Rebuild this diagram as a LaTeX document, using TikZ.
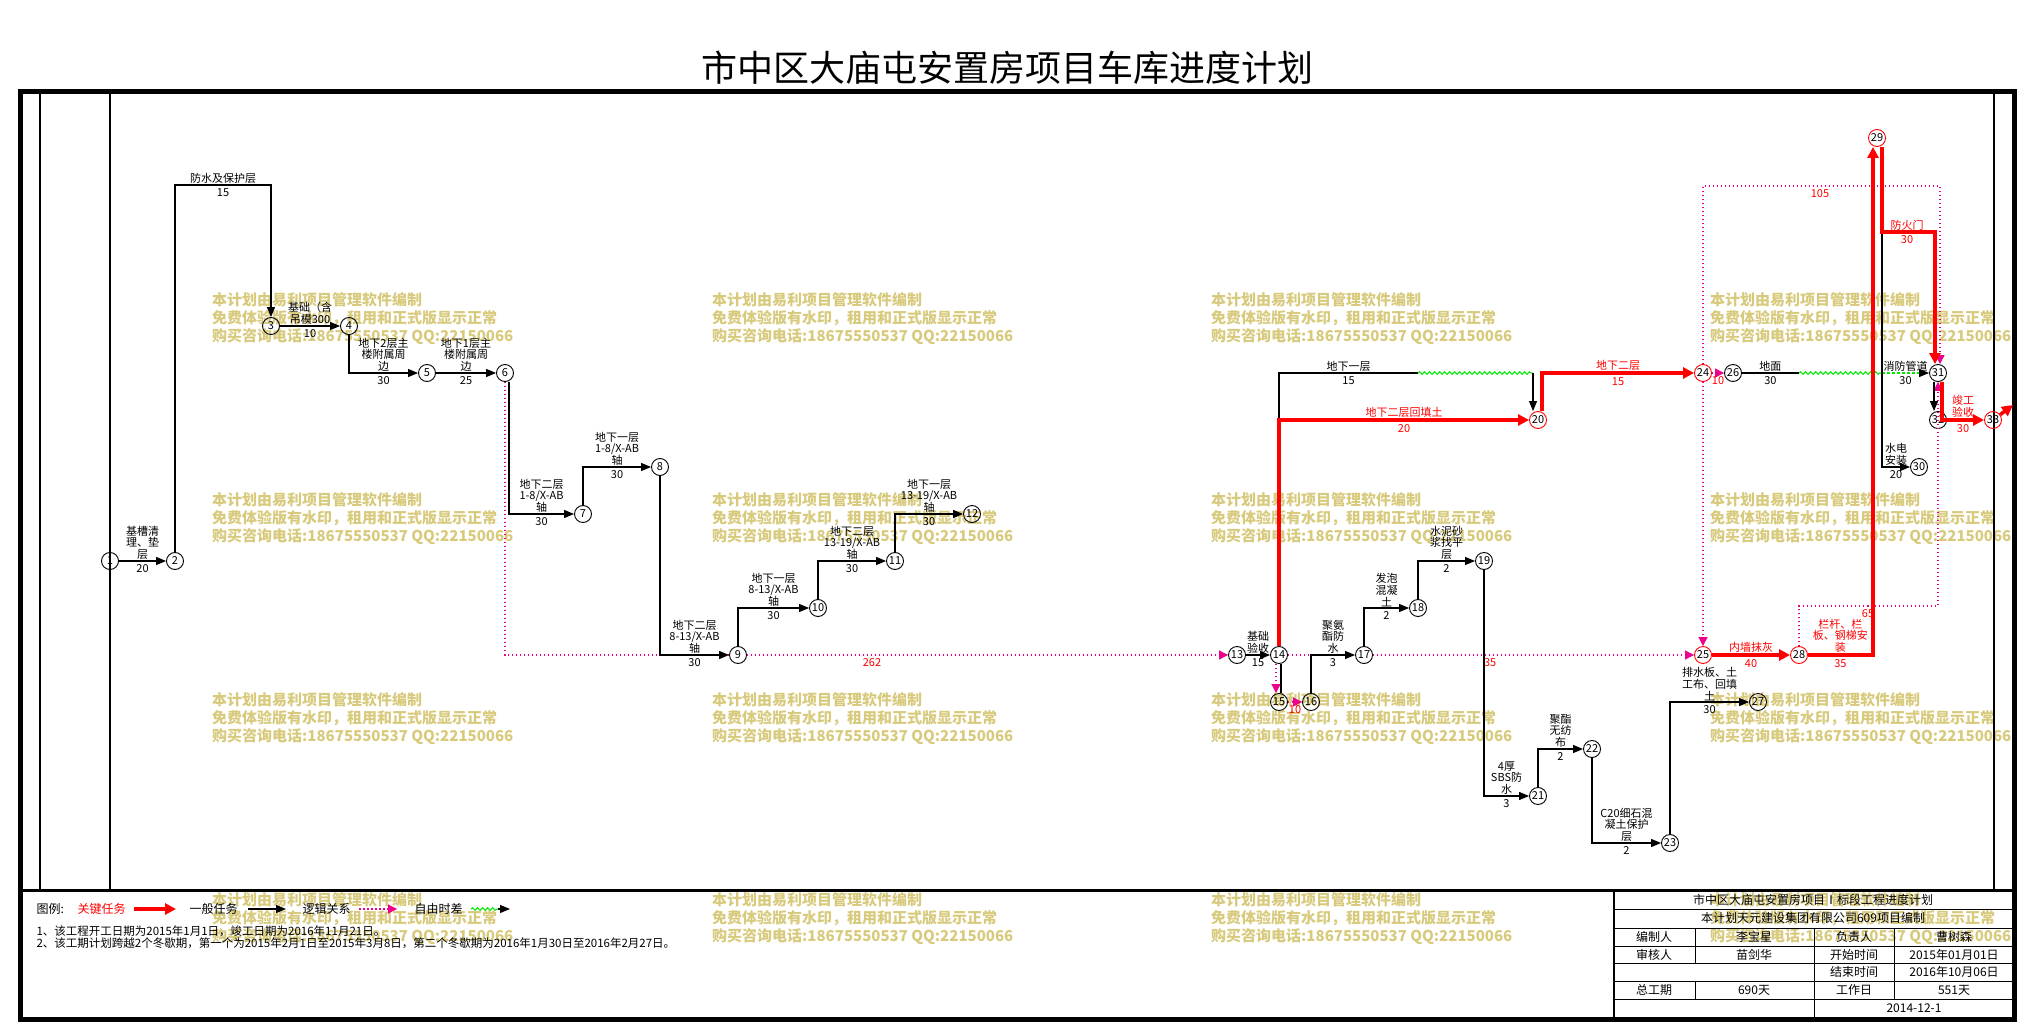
\documentclass[tikz,border=0pt]{standalone}
\usepackage{fontspec}
\setmainfont{Noto Sans CJK SC}
\usepackage{tikz}
\usetikzlibrary{arrows.meta,decorations.pathmorphing}
\definecolor{wmark}{RGB}{216,202,125}
\definecolor{lgreen}{RGB}{0,235,0}

\begin{document}
\begin{tikzpicture}[x=1pt, y=-1pt,
  evt/.style={circle, draw, line width=0.9pt, minimum size=17pt, inner sep=0pt, font=\fontsize{11}{11}\selectfont},
  cevt/.style={evt, draw=red},
  task/.style={line width=1.1pt, -{Triangle[length=10pt,width=8pt]}},
  crit/.style={red, line width=3.5pt, -{Triangle[length=11pt,width=11pt]}},
  logic/.style={magenta, line width=1.1pt, dash pattern=on 1.5pt off 2.5pt, -{Triangle[length=9pt,width=9pt]}},
  dotline/.style={magenta, line width=1.1pt, dash pattern=on 1.5pt off 2.5pt},
  slack/.style={lgreen, line width=1pt, decorate, decoration={snake, amplitude=1.3pt, segment length=5pt}},
  slackarrow/.style={lgreen, line width=1.1pt, dash pattern=on 3pt off 2pt, -{Triangle[length=10pt,width=8pt,color=black]}},
  lbl/.style={above, inner sep=1pt, align=center, font=\fontsize{11}{11.6}\selectfont},
  dur/.style={below, inner sep=3pt, font=\fontsize{11}{11}\selectfont},
  clbl/.style={lbl, text=red},
  cdur/.style={dur, text=red},
  wm/.style={anchor=north west, inner sep=0pt, align=left, text=wmark, font=\bfseries\fontsize{15}{18}\selectfont},
  cell/.style={font=\fontsize{12}{12}\selectfont},
  note/.style={anchor=west, font=\fontsize{11.5}{11.5}\selectfont}
]
\useasboundingbox (0,0) rectangle (2018,1024);

\foreach \wx in {212,712,1211,1710}
  \foreach \wy in {292,492,692,892}
    \node[wm] (wm-\wx-\wy) at (\wx,\wy) {本计划由易利项目管理软件编制\\免费体验版有水印，租用和正式版显示正常\\购买咨询电话:18675550537 QQ:22150066};

\node[font=\fontsize{36}{36}\selectfont] (title) at (1007,68) {市中区大庙屯安置房项目车库进度计划};

\draw[line width=5pt] (20,92) rectangle (2014,1019);
\draw[line width=3pt] (20,890) -- (2014,890);
\draw[line width=2pt] (40,92) -- (40,890);
\draw[line width=1.2pt] (110,92) -- (110,890);
\draw[line width=1.2pt] (1994,92) -- (1994,890);

\node[evt] (n1) at (110,561) {1};
\node[evt] (n2) at (175,561) {2};
\node[evt] (n3) at (271,326) {3};
\node[evt] (n4) at (349,326) {4};
\node[evt] (n5) at (427,373) {5};
\node[evt] (n6) at (505,373) {6};
\node[evt] (n7) at (583,514) {7};
\node[evt] (n8) at (660,467) {8};
\node[evt] (n9) at (738,655) {9};
\node[evt] (n10) at (818,608) {10};
\node[evt] (n11) at (895,561) {11};
\node[evt] (n12) at (972,514) {12};
\node[evt] (n13) at (1237,655) {13};
\node[evt] (n14) at (1279,655) {14};
\node[evt] (n15) at (1279,702) {15};
\node[evt] (n16) at (1311,702) {16};
\node[evt] (n17) at (1364,655) {17};
\node[evt] (n18) at (1418,608) {18};
\node[evt] (n19) at (1484,561) {19};
\node[cevt] (n20) at (1538,420) {20};
\node[evt] (n21) at (1538,796) {21};
\node[evt] (n22) at (1592,749) {22};
\node[evt] (n23) at (1670,843) {23};
\node[cevt] (n24) at (1703,373) {24};
\node[cevt] (n25) at (1703,655) {25};
\node[evt] (n26) at (1733,373) {26};
\node[evt] (n27) at (1758,702) {27};
\node[cevt] (n28) at (1799,655) {28};
\node[cevt] (n29) at (1877,138) {29};
\node[evt] (n30) at (1919,467) {30};
\node[evt] (n31) at (1938,373) {31};
\node[evt] (n32) at (1938,420) {32};
\node[cevt] (n33) at (1993,420) {33};

\coordinate (t23) at (223,185);
\coordinate (e14) at (1418,373);
\coordinate (w20) at (1533,373);
\coordinate (k26) at (1799,373);
\coordinate (j29) at (1882,373);
\coordinate (fd) at (1882,232);
\coordinate (fm) at (1907,232);
\coordinate (r105) at (1820,186);
\coordinate (r65) at (1868,606);
\coordinate (fin) at (2013,405);

\draw[dotline] (n6) |- (n9);
\draw[logic] (n9) -- (n13) node[cdur, pos=.26] (d913) {262};
\draw[logic] ([xshift=-3pt]n14.south) -- ([xshift=-3pt]n15.north);
\draw[line width=1.1pt] ([xshift=2pt]n14.south) -- ([xshift=2pt]n15.north);
\draw[logic] (n15) -- (n16) node[cdur, midway] (d1516) {10};
\draw[dotline] (n14) -- (n17);
\draw[logic] (n17) -- (n25) node[cdur, pos=.365] (d1725) {35};
\draw[logic] (n24) -- (n25);
\draw[logic] (n24) -- (n26) node[cdur, midway] (d2426) {10};
\draw[logic] (n24) |- (r105) -| ([xshift=2pt]n31.north);
\node[cdur] (d105) at (r105) {105};
\draw[logic] (n28) |- (r65) -| (n31);
\node[cdur] (d65) at (r65) {65};

\draw[task] (n1) -- (n2) node[lbl, midway] (l12) {基槽清\\理、垫\\层} node[dur, midway] (d12) {20};
\draw[task] (n2) |- (t23) -| (n3);
\node[lbl] (l23) at (t23) {防水及保护层};
\node[dur] (d23) at (t23) {15};
\draw[task] (n3) -- (n4) node[lbl, midway] (l34) {基础（含\\吊模300} node[dur, midway] (d34) {10};
\draw[task] (n4) |- (n5) node[lbl, pos=.75] (l45) {地下2层主\\楼附属周\\边} node[dur, pos=.75] (d45) {30};
\draw[task] (n5) -- (n6) node[lbl, midway] (l56) {地下1层主\\楼附属周\\边} node[dur, midway] (d56) {25};
\draw[task] ([xshift=4pt]n6.south) |- (n7) node[lbl, pos=.75] (l67) {地下二层\\1-8/X-AB\\轴} node[dur, pos=.75] (d67) {30};
\draw[task] (n7) |- (n8) node[lbl, pos=.75] (l78) {地下一层\\1-8/X-AB\\轴} node[dur, pos=.75] (d78) {30};
\draw[task] (n8) |- (n9) node[lbl, pos=.75] (l89) {地下二层\\8-13/X-AB\\轴} node[dur, pos=.75] (d89) {30};
\draw[task] (n9) |- (n10) node[lbl, pos=.75] (l910) {地下一层\\8-13/X-AB\\轴} node[dur, pos=.75] (d910) {30};
\draw[task] (n10) |- (n11) node[lbl, pos=.75] (l1011) {地下二层\\13-19/X-AB\\轴} node[dur, pos=.75] (d1011) {30};
\draw[task] (n11) |- (n12) node[lbl, pos=.75] (l1112) {地下一层\\13-19/X-AB\\轴} node[dur, pos=.75] (d1112) {30};
\draw[task] (n13) -- (n14) node[lbl, midway] (l1314) {基础\\验收} node[dur, midway] (d1314) {15};
\draw[task] (n16) |- (n17) node[lbl, pos=.75] (l1617) {聚氨\\酯防\\水} node[dur, pos=.75] (d1617) {3};
\draw[task] (n17) |- (n18) node[lbl, pos=.75] (l1718) {发泡\\混凝\\土} node[dur, pos=.75] (d1718) {2};
\draw[task] (n18) |- (n19) node[lbl, pos=.75] (l1819) {水泥砂\\浆找平\\层} node[dur, pos=.75] (d1819) {2};
\draw[task] (n19) |- (n21) node[lbl, pos=.75] (l1921) {4厚\\SBS防\\水} node[dur, pos=.75] (d1921) {3};
\draw[task] (n21) |- (n22) node[lbl, pos=.75] (l2122) {聚酯\\无纺\\布} node[dur, pos=.75] (d2122) {2};
\draw[task] (n22) |- (n23) node[lbl, pos=.75] (l2223) {C20细石混\\凝土保护\\层} node[dur, pos=.75] (d2223) {2};
\draw[task] (n23) |- (n27) node[lbl, pos=.75] (l2327) {排水板、土\\工布、回填\\土} node[dur, pos=.75] (d2327) {30};
\draw[line width=1.1pt] (n14) |- (e14) node[lbl, pos=.75] (l1420) {地下一层} node[dur, pos=.75] (d1420) {15};
\draw[slack] (e14) -- (w20);
\draw[task] (w20) -- (w20 |- n20.north);
\draw[line width=1.1pt] (n26) -- (k26) node[lbl, midway] (l2629) {地面} node[dur, midway] (d2629) {30};
\draw[slack] (k26) -- (j29);
\draw[slackarrow] (j29) -- (n31) node[lbl, midway, text=black] (l2931) {消防管道} node[dur, midway, text=black] (d2931) {30};
\draw[task] (fd) |- (n30) node[lbl, pos=.75] (l2930) {水电\\安装} node[dur, pos=.75] (d2930) {20};
\draw[task] ([xshift=-4pt]n31.south) -- ([xshift=-4pt]n32.north);

\draw[crit] (n14) |- (n20) node[clbl, pos=.75] (l1420b) {地下二层回填土} node[cdur, pos=.75] (d1420b) {20};
\draw[crit] ([xshift=4pt]n20.north) |- (n24) node[clbl, pos=.75] (l2024) {地下二层} node[cdur, pos=.75] (d2024) {15};
\draw[crit] (n25) -- (n28) node[clbl, midway] (l2528) {内墙抹灰} node[cdur, midway] (d2528) {40};
\draw[crit] (n28) -| ([xshift=-4pt]n29.south) node[clbl, pos=.25] (l2829) {栏杆、栏\\板、钢梯安\\装} node[cdur, pos=.25] (d2829) {35};
\draw[crit] ([xshift=5pt]n29.south) |- (fm) -| ([xshift=-3pt]n31.north);
\node[clbl] (l2931b) at (fm) {防火门};
\node[cdur] (d2931b) at (fm) {30};
\draw[crit] ([xshift=4pt]n31.south) |- (n33) node[clbl, pos=.75] (l3133) {竣工\\验收} node[cdur, pos=.75] (d3133) {30};
\draw[crit] (n33) -- (fin);

\node[cell, anchor=west] (lg0) at (33,909) {图例:};
\node[cell, anchor=west, text=red] (lg1) at (74,909) {关键任务};
\coordinate (lga) at (134,909);
\coordinate (lgb) at (176,909);
\draw[crit] (lga) -- (lgb);
\node[cell, anchor=west] (lg2) at (186,909) {一般任务};
\coordinate (lgc) at (248,909);
\coordinate (lgd) at (286,909);
\draw[task] (lgc) -- (lgd);
\node[cell, anchor=west] (lg3) at (299,909) {逻辑关系};
\coordinate (lge) at (359,909);
\coordinate (lgf) at (397,909);
\draw[logic] (lge) -- (lgf);
\node[cell, anchor=west] (lg4) at (411,909) {自由时差};
\coordinate (lgg) at (471,909);
\coordinate (lgh) at (498,909);
\coordinate (lgi) at (510,909);
\draw[slack] (lgg) -- (lgh);
\draw[task] (lgh) -- (lgi);
\node[note] (nt1) at (33,931) {1、该工程开工日期为2015年1月1日，竣工日期为2016年11月21日。};
\node[note] (nt2) at (33,943) {2、该工期计划跨越2个冬歇期，第一个为2015年2月1日至2015年3月8日，第二个冬歇期为2016年1月30日至2016年2月27日。};

\draw[line width=2.5pt] (1614,890) -- (1614,1019);
\foreach \ry in {909,928,946,963,981,999}
  \draw[line width=0.8pt] (1614,\ry) -- (2014,\ry);
\draw[line width=0.8pt] (1695,928) -- (1695,963) (1695,981) -- (1695,999);
\draw[line width=0.8pt] (1814,928) -- (1814,1019);
\draw[line width=0.8pt] (1894,928) -- (1894,999);
\node[cell] (c1) at (1813,900) {市中区大庙屯安置房项目Ⅰ标段工程进度计划};
\node[cell] (c2) at (1813,918) {本计划天元建设集团有限公司609项目编制};
\node[cell] (c31) at (1654,937) {编制人};
\node[cell] (c32) at (1754,937) {李宝星};
\node[cell] (c33) at (1854,937) {负责人};
\node[cell] (c34) at (1954,937) {曹树森};
\node[cell] (c41) at (1654,955) {审核人};
\node[cell] (c42) at (1754,955) {苗剑华};
\node[cell] (c43) at (1854,955) {开始时间};
\node[cell] (c44) at (1954,955) {2015年01月01日};
\node[cell] (c53) at (1854,972) {结束时间};
\node[cell] (c54) at (1954,972) {2016年10月06日};
\node[cell] (c61) at (1654,990) {总工期};
\node[cell] (c62) at (1754,990) {690天};
\node[cell] (c63) at (1854,990) {工作日};
\node[cell] (c64) at (1954,990) {551天};
\node[cell] (c7) at (1914,1008) {2014-12-1};
\end{tikzpicture}
\end{document}
